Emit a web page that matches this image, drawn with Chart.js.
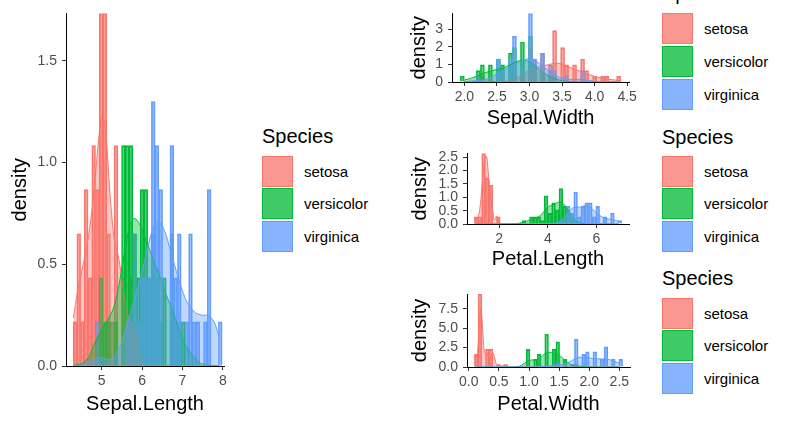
<!DOCTYPE html>
<html>
<head>
<meta charset="utf-8">
<script src="https://cdn.jsdelivr.net/npm/chart.js@4/dist/chart.umd.min.js"></script>
<style>
  body { margin: 0; background: #fff; width: 800px; height: 426px; overflow: hidden; position: relative;
         font-family: "Liberation Sans", Arial, sans-serif; }
  canvas { position: absolute; }
  .ttl { position: absolute; font-size: 20px; line-height: 20px; color: #000; white-space: nowrap; }
  .key { position: absolute; width: 31px; height: 31px; box-sizing: border-box; border: 1px solid; }
  .lab { position: absolute; font-size: 15px; line-height: 31px; height: 31px; color: #000; white-space: nowrap; }
</style>
</head>
<body>
<canvas id="pSL" width="240" height="426" style="left:0;top:0"></canvas>
<canvas id="pSW" width="240" height="140" style="left:400px;top:0"></canvas>
<canvas id="pPL" width="240" height="140" style="left:400px;top:140px"></canvas>
<canvas id="pPW" width="240" height="146" style="left:400px;top:280px"></canvas>
<script>
// --- donnees ------------------------------------------------------------------
const species = ['setosa', 'versicolor', 'virginica'];
const speciesColors = ['#F8766D', '#00BA38', '#619CFF'];

// Sepal.Length : histogram (bin centre / density)
const slSetosaBinX = [4.338, 4.431, 4.523, 4.615, 4.708, 4.8, 4.892, 4.985, 5.077, 5.169, 5.262, 5.354, 5.538, 5.723, 5.815];
const slSetosaBinY = [0.217, 0.65, 0.217, 0.867, 0.433, 1.083, 0.867, 1.733, 1.733, 0.65, 0.217, 1.083, 0.433, 0.433, 0.217];
const slVersiBinX = [4.892, 4.985, 5.077, 5.169, 5.354, 5.538, 5.631, 5.723, 5.815, 5.908, 6.0, 6.092, 6.185, 6.277, 6.369, 6.462, 6.554, 6.738, 6.831, 6.923, 7.015];
const slVersiBinY = [0.217, 0.433, 0.217, 0.217, 0.217, 1.083, 1.083, 1.083, 0.65, 0.433, 0.867, 0.867, 0.433, 0.65, 0.433, 0.217, 0.433, 0.65, 0.217, 0.217, 0.217];
const slVirgiBinX = [4.892, 5.631, 5.723, 5.815, 5.908, 6.0, 6.092, 6.185, 6.277, 6.369, 6.462, 6.738, 6.831, 6.923, 7.108, 7.2, 7.292, 7.385, 7.569, 7.662, 7.938];
const slVirgiBinY = [0.217, 0.217, 0.217, 0.65, 0.217, 0.433, 0.433, 0.433, 1.3, 1.083, 0.867, 1.083, 0.433, 0.65, 0.217, 0.65, 0.217, 0.217, 0.217, 0.867, 0.217];
// Sepal.Length : density curves
const slDensX = [4.3, 4.4, 4.5, 4.6, 4.7, 4.8, 4.9, 5.0, 5.1, 5.2, 5.3, 5.4, 5.5, 5.6, 5.7, 5.8, 5.9, 6.0, 6.1, 6.2, 6.3, 6.4, 6.5, 6.6, 6.7, 6.8, 6.9, 7.0, 7.1, 7.2, 7.3, 7.4, 7.5, 7.6, 7.7, 7.8, 7.9];
const slSetosaDens = [0.236, 0.365, 0.461, 0.557, 0.675, 0.843, 1.061, 1.229, 1.153, 0.86, 0.639, 0.552, 0.43, 0.294, 0.228, 0.194, 0.088, 0.024, 0.004, 0, 0, 0, 0, 0, 0, 0, 0, 0, 0, 0, 0, 0, 0, 0, 0, 0, 0];
const slVersiDens = [0.003, 0.006, 0.012, 0.025, 0.05, 0.1, 0.14, 0.18, 0.21, 0.245, 0.29, 0.37, 0.48, 0.6, 0.69, 0.725, 0.71, 0.67, 0.615, 0.565, 0.51, 0.46, 0.405, 0.35, 0.3, 0.25, 0.19, 0.135, 0.095, 0.065, 0.04, 0.02, 0.01, 0.004, 0.002, 0.001, 0];
const slVirgiDens = [0.001, 0.002, 0.005, 0.01, 0.02, 0.032, 0.04, 0.04, 0.033, 0.032, 0.045, 0.075, 0.12, 0.18, 0.25, 0.32, 0.39, 0.46, 0.55, 0.63, 0.69, 0.71, 0.69, 0.64, 0.57, 0.5, 0.43, 0.37, 0.32, 0.29, 0.265, 0.255, 0.25, 0.25, 0.24, 0.21, 0.15];

// Sepal.Width
const swSetosaBinX = [2.277, 2.892, 3.015, 3.077, 3.2, 3.323, 3.385, 3.508, 3.569, 3.692, 3.815, 3.877, 4.0, 4.123, 4.185, 4.369];
const swSetosaBinY = [0.325, 0.325, 1.95, 1.3, 1.625, 0.65, 2.925, 1.95, 0.975, 0.975, 1.3, 0.65, 0.325, 0.325, 0.325, 0.325];
const swVersiBinX = [1.969, 2.215, 2.277, 2.4, 2.523, 2.585, 2.708, 2.769, 2.892, 3.015, 3.077, 3.2, 3.323, 3.385];
const swVersiBinY = [0.325, 0.65, 0.975, 0.975, 1.3, 0.975, 1.625, 1.95, 2.275, 2.6, 0.975, 0.975, 0.325, 0.325];
const swVirgiBinX = [2.215, 2.523, 2.585, 2.708, 2.769, 2.892, 3.015, 3.077, 3.2, 3.323, 3.385, 3.569, 3.815];
const swVirgiBinY = [0.325, 1.3, 0.65, 1.3, 2.6, 0.65, 3.9, 1.3, 1.625, 0.975, 0.65, 0.325, 0.65];
const swDensX = [2.0, 2.1, 2.2, 2.3, 2.4, 2.5, 2.6, 2.7, 2.8, 2.9, 3.0, 3.1, 3.2, 3.3, 3.4, 3.5, 3.6, 3.7, 3.8, 3.9, 4.0, 4.1, 4.2, 4.3, 4.4];
const swSetosaDens = [0.007, 0.021, 0.043, 0.055, 0.043, 0.023, 0.021, 0.068, 0.204, 0.435, 0.676, 0.825, 0.904, 0.993, 1.068, 1.021, 0.865, 0.708, 0.578, 0.445, 0.316, 0.221, 0.159, 0.117, 0.084];
const swVersiDens = [0.113, 0.207, 0.353, 0.508, 0.623, 0.707, 0.811, 0.974, 1.156, 1.249, 1.146, 0.869, 0.568, 0.337, 0.18, 0.078, 0.024, 0.005, 0.001, 0, 0, 0, 0, 0, 0];
const swVirgiDens = [0.015, 0.048, 0.079, 0.114, 0.247, 0.455, 0.648, 0.873, 1.074, 1.229, 1.333, 1.186, 0.9, 0.632, 0.385, 0.206, 0.138, 0.148, 0.154, 0.097, 0.031, 0.005, 0, 0, 0];

// Petal.Length
const plSetosaBinX = [1.059, 1.21, 1.362, 1.513, 1.664, 1.967];
const plSetosaBinY = [0.264, 0.264, 2.644, 1.719, 1.454, 0.264];
const plVersiBinX = [3.026, 3.328, 3.479, 3.631, 3.782, 3.933, 4.085, 4.236, 4.387, 4.538, 4.69, 4.841, 4.992, 5.144];
const plVersiBinY = [0.132, 0.264, 0.264, 0.264, 0.132, 1.058, 0.397, 0.793, 0.529, 1.322, 0.661, 0.529, 0.132, 0.132];
const plVirgiBinX = [4.538, 4.841, 4.992, 5.144, 5.295, 5.446, 5.597, 5.749, 5.9, 6.051, 6.354, 6.656, 6.959];
const plVirgiBinY = [0.132, 0.661, 0.397, 1.19, 0.264, 0.661, 0.793, 0.793, 0.264, 0.661, 0.264, 0.397, 0.132];
const plSetosaDensX = [1.0, 1.05, 1.1, 1.15, 1.2, 1.25, 1.3, 1.35, 1.4, 1.45, 1.5, 1.55, 1.6, 1.65, 1.7, 1.75, 1.8, 1.85, 1.9, 1.95, 2.0, 2.05, 2.1, 6.9];
const plSetosaDens = [0.175, 0.199, 0.229, 0.313, 0.51, 0.909, 1.435, 1.971, 2.458, 2.546, 2.458, 1.977, 1.488, 1.098, 0.78, 0.412, 0.159, 0.205, 0.298, 0.193, 0.052, 0.006, 0, 0];
const plVersiDensX = [1.0, 2.5, 2.6, 2.7, 2.8, 2.9, 3.0, 3.1, 3.2, 3.3, 3.4, 3.5, 3.6, 3.7, 3.8, 3.9, 4.0, 4.1, 4.2, 4.3, 4.4, 4.5, 4.6, 4.7, 4.8, 4.9, 5.0, 5.1, 5.2, 5.3, 5.4, 5.5, 5.6, 5.8, 6.9];
const plVersiDens = [0, 0.001, 0.004, 0.012, 0.026, 0.046, 0.069, 0.095, 0.127, 0.164, 0.198, 0.227, 0.262, 0.321, 0.416, 0.531, 0.627, 0.683, 0.715, 0.755, 0.805, 0.83, 0.795, 0.695, 0.556, 0.411, 0.282, 0.177, 0.099, 0.047, 0.018, 0.006, 0.002, 0, 0];
const plVirgiDensX = [1.0, 3.8, 4.0, 4.1, 4.2, 4.3, 4.4, 4.5, 4.6, 4.7, 4.8, 4.9, 5.0, 5.1, 5.2, 5.3, 5.4, 5.5, 5.6, 5.7, 5.8, 5.9, 6.0, 6.1, 6.2, 6.3, 6.4, 6.5, 6.6, 6.7, 6.8, 6.9];
const plVirgiDens = [0, 0, 0.003, 0.008, 0.018, 0.035, 0.061, 0.104, 0.17, 0.264, 0.379, 0.495, 0.584, 0.629, 0.638, 0.627, 0.632, 0.684, 0.67, 0.634, 0.577, 0.505, 0.426, 0.349, 0.281, 0.228, 0.192, 0.188, 0.184, 0.16, 0.131, 0.102];

// Petal.Width
const pwSetosaBinX = [0.123, 0.185, 0.308, 0.369, 0.492, 0.615];
const pwSetosaBinY = [1.625, 9.425, 2.275, 2.275, 0.325, 0.325];
const pwVersiBinX = [0.985, 1.108, 1.169, 1.292, 1.415, 1.477, 1.6, 1.723, 1.785];
const pwVersiBinY = [2.275, 0.975, 1.625, 4.225, 2.275, 3.25, 0.975, 0.325, 0.325];
const pwVirgiBinX = [1.415, 1.477, 1.6, 1.723, 1.785, 1.908, 1.969, 2.092, 2.215, 2.277, 2.4, 2.523];
const pwVirgiBinY = [0.325, 0.65, 0.325, 0.325, 3.575, 1.625, 1.95, 1.95, 0.975, 2.6, 0.975, 0.975];
const pwSetosaDensX = [0.1, 0.125, 0.15, 0.175, 0.2, 0.225, 0.25, 0.275, 0.3, 0.325, 0.35, 0.375, 0.4, 0.425, 0.45, 0.475, 0.5, 0.525, 0.55, 0.575, 0.6, 0.625, 0.65, 0.675, 0.7, 2.5];
const pwSetosaDens = [1.34, 1.31, 2.34, 5.48, 7.56, 5.5, 2.48, 1.69, 1.87, 1.4, 0.965, 1.4, 1.83, 1.32, 0.55, 0.28, 0.27, 0.2, 0.138, 0.2, 0.26, 0.187, 0.069, 0.013, 0.001, 0];
const pwVersiDensX = [0.1, 0.7, 0.75, 0.8, 0.85, 0.9, 0.95, 1.0, 1.05, 1.1, 1.15, 1.2, 1.25, 1.3, 1.35, 1.4, 1.45, 1.5, 1.55, 1.6, 1.65, 1.7, 1.75, 1.8, 1.85, 1.9, 1.95, 2.0, 2.05, 2.1, 2.5];
const pwVersiDens = [0, 0.001, 0.006, 0.034, 0.129, 0.338, 0.626, 0.849, 0.912, 0.91, 1.015, 1.296, 1.655, 1.89, 1.896, 1.785, 1.671, 1.508, 1.21, 0.841, 0.529, 0.331, 0.225, 0.16, 0.102, 0.051, 0.019, 0.005, 0.001, 0, 0];
const pwVirgiDensX = [0.1, 1.0, 1.1, 1.2, 1.3, 1.4, 1.5, 1.6, 1.7, 1.8, 1.9, 2.0, 2.1, 2.2, 2.3, 2.4, 2.5];
const pwVirgiDens = [0, 0, 0.002, 0.019, 0.08, 0.184, 0.275, 0.402, 0.762, 1.183, 1.277, 1.174, 1.075, 1.031, 0.997, 0.794, 0.48];

// --- rendu ---------------------------------------------------------------------
Chart.defaults.font.family = '"Liberation Sans", Arial, sans-serif';

function alpha(hex, a) {
  const n = parseInt(hex.slice(1), 16);
  return `rgba(${n >> 16},${(n >> 8) & 255},${n & 255},${a})`;
}
const pts = (xs, ys) => xs.map((x, i) => ({ x: x, y: ys[i] }));

function addPanel(p) {
  const ds = [];
  for (let i = 0; i < 3; i++) {
    ds.push({
      type: 'bar', label: species[i], data: pts(p.binX[i], p.binY[i]),
      backgroundColor: alpha(speciesColors[i], 0.6), borderColor: speciesColors[i], borderWidth: 1,
      grouped: false, barPercentage: 1, categoryPercentage: 1, order: 6 - i
    });
  }
  for (let i = 0; i < 3; i++) {
    ds.push({
      type: 'line', label: species[i], data: pts(p.densX[i], p.densY[i]),
      borderColor: speciesColors[i], borderWidth: 1, backgroundColor: alpha(speciesColors[i], 0.4),
      fill: 'origin', pointRadius: 0, cubicInterpolationMode: 'monotone', order: 3 - i
    });
  }
  const axisGrid = { display: true, drawOnChartArea: false, drawTicks: true, tickLength: 4, color: '#333333', offset: false };
  const axisBorder = { display: true, color: '#000', width: 1 };
  new Chart(document.getElementById(p.id), {
    type: 'bar',
    data: { datasets: ds },
    options: {
      responsive: false, animation: false, devicePixelRatio: 1,
      layout: { padding: p.pad },
      plugins: { legend: { display: false }, tooltip: { enabled: false } },
      scales: {
        x: {
          type: 'linear', offset: false, min: p.xMin, max: p.xMax,
          grid: axisGrid, border: axisBorder,
          ticks: { stepSize: p.xStep, includeBounds: false, autoSkip: false, maxRotation: 0, padding: 3,
                   color: '#4D4D4D', font: { size: 14 }, callback: v => v.toFixed(p.xDec) },
          title: { display: true, text: p.xTitle, color: '#000', font: { size: 20 }, padding: { top: 0, bottom: p.xTitlePad } },
          afterFit: s => { s.height = p.xH; }
        },
        y: {
          min: 0, max: p.yMax,
          grid: axisGrid, border: axisBorder,
          ticks: { stepSize: p.yStep, includeBounds: false, autoSkip: false, padding: 5,
                   color: '#4D4D4D', font: { size: 14 }, callback: v => v.toFixed(p.yDec) },
          title: { display: true, text: 'density', color: '#000', font: { size: 20 }, padding: { top: p.yTitlePad, bottom: 0 } },
          afterFit: s => { s.width = p.yW; }
        }
      }
    }
  });
}

addPanel({ id: 'pSL', xTitle: 'Sepal.Length',
  binX: [slSetosaBinX, slVersiBinX, slVirgiBinX], binY: [slSetosaBinY, slVersiBinY, slVirgiBinY],
  densX: [slDensX, slDensX, slDensX], densY: [slSetosaDens, slVersiDens, slVirgiDens],
  xMin: 4.115, xMax: 8.03, xStep: 1, xDec: 0, yMax: 1.733, yStep: 0.5, yDec: 1,
  pad: { left: 0, right: 16, top: 9, bottom: 0 }, xH: 60, yW: 66, xTitlePad: 10, yTitlePad: 8 });

addPanel({ id: 'pSW', xTitle: 'Sepal.Width',
  binX: [swSetosaBinX, swVersiBinX, swVirgiBinX], binY: [swSetosaBinY, swVersiBinY, swVirgiBinY],
  densX: [swDensX, swDensX, swDensX], densY: [swSetosaDens, swVersiDens, swVirgiDens],
  xMin: 1.81, xMax: 4.53, xStep: 0.5, xDec: 1, yMax: 3.9, yStep: 1, yDec: 0,
  pad: { left: 0, right: 9, top: 10, bottom: 0 }, xH: 58, yW: 52, xTitlePad: 10, yTitlePad: 7 });

addPanel({ id: 'pPL', xTitle: 'Petal.Length',
  binX: [plSetosaBinX, plVersiBinX, plVirgiBinX], binY: [plSetosaBinY, plVersiBinY, plVirgiBinY],
  densX: [plSetosaDensX, plVersiDensX, plVirgiDensX], densY: [plSetosaDens, plVersiDens, plVirgiDens],
  xMin: 0.681, xMax: 7.337, xStep: 2, xDec: 0, yMax: 2.644, yStep: 0.5, yDec: 1,
  pad: { left: 0, right: 11, top: 11, bottom: 0 }, xH: 56, yW: 67, xTitlePad: 9, yTitlePad: 8 });

addPanel({ id: 'pPW', xTitle: 'Petal.Width',
  binX: [pwSetosaBinX, pwVersiBinX, pwVirgiBinX], binY: [pwSetosaBinY, pwVersiBinY, pwVirgiBinY],
  densX: [pwSetosaDensX, pwVersiDensX, pwVirgiDensX], densY: [pwSetosaDens, pwVersiDens, pwVirgiDens],
  xMin: -0.03, xMax: 2.677, xStep: 0.5, xDec: 1, yMax: 9.425, yStep: 2.5, yDec: 1,
  pad: { left: 0, right: 10, top: 14, bottom: 0 }, xH: 59, yW: 67, xTitlePad: 10, yTitlePad: 8 });

// legendes (une par panneau, comme dans la figure)
function addLegend(left, titleTop, keyTops) {
  const t = document.createElement('div');
  t.className = 'ttl'; t.textContent = 'Species';
  t.style.left = left + 'px'; t.style.top = titleTop + 'px';
  document.body.appendChild(t);
  species.forEach((sp, i) => {
    const k = document.createElement('div');
    k.className = 'key';
    k.style.left = left + 'px'; k.style.top = keyTops[i] + 'px';
    k.style.borderColor = speciesColors[i];
    k.style.background = `linear-gradient(${alpha(speciesColors[i], 0.6)}, ${alpha(speciesColors[i], 0.6)}), ${alpha(speciesColors[i], 0.4)}`;
    document.body.appendChild(k);
    const l = document.createElement('div');
    l.className = 'lab'; l.textContent = sp;
    l.style.left = (left + 42) + 'px'; l.style.top = keyTops[i] + 'px';
    document.body.appendChild(l);
  });
}
addLegend(262, 126, [156, 188, 221]);
addLegend(662, -17, [13, 46, 79]);
addLegend(662, 127, [156, 188, 221]);
addLegend(662, 268, [298, 330, 363]);
</script>
</body>
</html>
